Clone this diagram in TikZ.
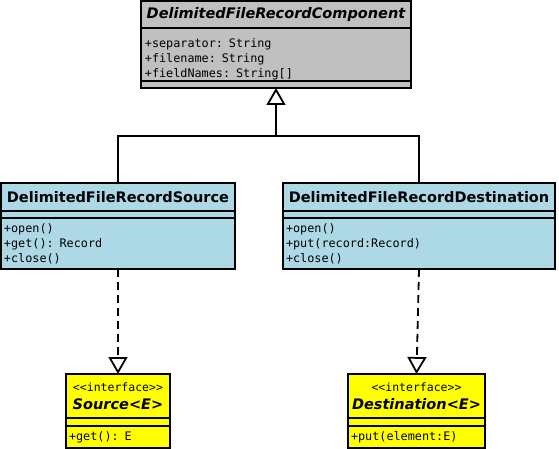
\documentclass[tikz,border=0pt]{standalone}
\usepackage{fontspec}
\setmainfont{DejaVu Sans}
\setmonofont{DejaVu Sans Mono}
\usetikzlibrary{arrows.meta,positioning}

\definecolor{abstractgray}{HTML}{C0C0C0}
\definecolor{classblue}{HTML}{ADD8E6}
\definecolor{ifaceyellow}{HTML}{FFFF00}
\newcommand\stereofont{\fontsize{11.5}{13}\selectfont\ttfamily\mdseries\upshape}

\begin{document}
\begin{tikzpicture}
  [x=1pt,y=-1pt,line width=1.8pt,
   part/.style={draw,anchor=north west,inner sep=0pt,outer sep=0pt},
   head/.style={part,align=center,font=\fontsize{14.5}{17}\selectfont\bfseries},
   body/.style={part,inner xsep=3pt,align=left,font=\fontsize{11.8}{15}\selectfont\ttfamily},
   fields/.style={anchor=north west,inner sep=0pt,align=left,font=\fontsize{11.8}{15}\selectfont\ttfamily},
   realizes/.style={dash pattern=on 8pt off 5pt,-{Triangle[open,length=17pt,width=19pt]}},
   extends/.style={-{Triangle[open,length=17pt,width=19pt]}}]
  \useasboundingbox (0,0) rectangle (559,449);

  % abstract base class
  \node[head,fill=abstractgray,minimum width=270,minimum height=27] (comp-title) at (141,1)
    {\itshape DelimitedFileRecordComponent};
  \node[part,fill=abstractgray,minimum width=270,minimum height=53] (comp-attr) at (comp-title.south west) {};
  \node[fields,text width=264] (comp-fields) at ([shift={(3,10)}]comp-attr.north west)
    {+separator: String\\+filename: String\\+fieldNames: String[]};
  \node[part,fill=abstractgray,minimum width=270,minimum height=7] (comp-ops) at (comp-attr.south west) {};

  % concrete classes
  \node[head,fill=classblue,minimum width=234,minimum height=28] (src-title) at (1,183)
    {DelimitedFileRecordSource};
  \node[part,fill=classblue,minimum width=234,minimum height=7] (src-attr) at (src-title.south west) {};
  \node[body,fill=classblue,text width=228,minimum height=51] (src-ops) at (src-attr.south west)
    {+open()\\+get(): Record\\+close()};

  \node[head,fill=classblue,minimum width=272,minimum height=28] (dst-title) at (283,183)
    {DelimitedFileRecordDestination};
  \node[part,fill=classblue,minimum width=272,minimum height=7] (dst-attr) at (dst-title.south west) {};
  \node[body,fill=classblue,text width=266,minimum height=51] (dst-ops) at (dst-attr.south west)
    {+open()\\+put(record:Record)\\+close()};

  % interfaces
  \node[head,fill=ifaceyellow,minimum width=104,minimum height=44] (srci-title) at (66,374)
    {{\stereofont <<interface>>}\\[1pt]\itshape Source<E>};
  \node[part,fill=ifaceyellow,minimum width=104,minimum height=8] (srci-attr) at (srci-title.south west) {};
  \node[body,fill=ifaceyellow,text width=98,minimum height=22] (srci-ops) at (srci-attr.south west)
    {+get(): E};

  \node[head,fill=ifaceyellow,minimum width=137,minimum height=44] (dsti-title) at (348,374)
    {{\stereofont <<interface>>}\\[1pt]\itshape Destination<E>};
  \node[part,fill=ifaceyellow,minimum width=137,minimum height=8] (dsti-attr) at (dsti-title.south west) {};
  \node[body,fill=ifaceyellow,text width=131,minimum height=22] (dsti-ops) at (dsti-attr.south west)
    {+put(element:E)};

  % generalization
  \coordinate (junction) at (276,136);
  \draw (src-title.north) |- (junction) -| (dst-title.north);
  \draw[extends] (junction) -- (comp-ops.south);

  % realization
  \draw[realizes] (src-ops.south) -- (srci-title.north);
  \draw[realizes] (dst-ops.south) -- (dsti-title.north);
\end{tikzpicture}
\end{document}
